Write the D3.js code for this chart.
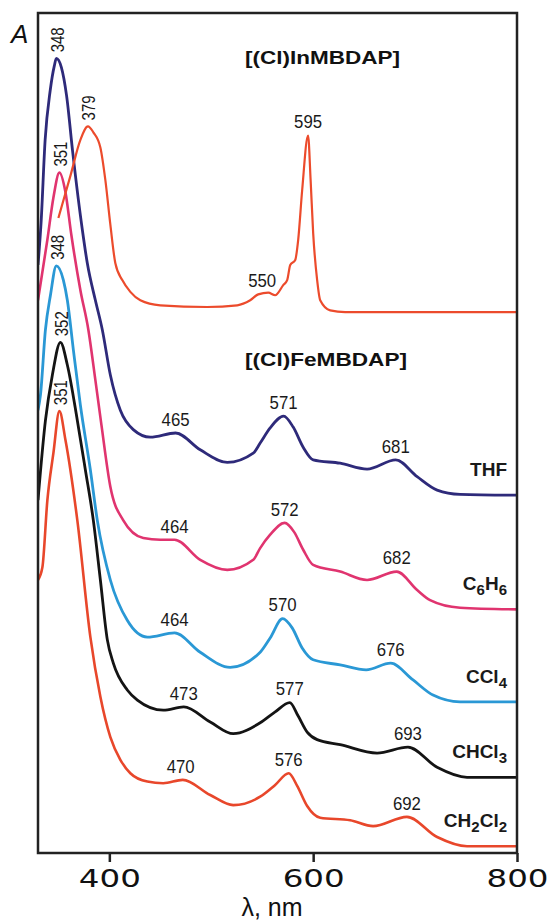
<!DOCTYPE html>
<html lang="en">
<head>
<meta charset="utf-8">
<meta name="viewport" content="width=device-width">
<title>Absorption spectra of (Cl)InMBDAP and (Cl)FeMBDAP</title>
<script src="https://cdn.jsdelivr.net/npm/d3@7"></script>
<style>
  html, body { margin: 0; padding: 0; background: #fff; }
  svg { display: block; }
  .peak { font-family: "Liberation Sans", Arial, sans-serif; font-size: 19px; fill: #1a1a1a; }
  .peak.rot { font-size: 18px; }
  .solvent { font-family: "Liberation Sans", Arial, sans-serif; font-size: 19px; font-weight: bold; fill: #1a1a1a; }
  .title { font-family: "Liberation Sans", Arial, sans-serif; font-size: 19px; font-weight: bold; fill: #111; }
  .axis text { font-family: "DejaVu Sans", sans-serif; font-size: 24px; fill: #111; }
  .axis line { stroke: #222; stroke-width: 2.5; }
</style>
</head>
<body>
<svg id="chart" width="551" height="923"></svg>
<script>
// spectra as [wavelength nm, absorbance (arb. units, offset stacked)]
const inMBDAP = [[350,7.56],[362,8.07],[371.6,8.49],[379,8.65],[384.3,8.58],[391.2,8.40],[396.1,8.01],
  [401,7.48],[405.9,7.02],[412.7,6.82],[420.6,6.68],[430.4,6.58],[450,6.52],[496,6.50],[525.5,6.52],
  [538.2,6.58],[546.1,6.65],[556,6.67],[562.7,6.64],[570.6,6.76],[574.5,6.82],[577.5,7.00],[582.4,7.06],
  [585.3,7.30],[589.2,7.89],[595,8.54],[597.5,8.01],[600,7.38],[603.9,6.82],[606.9,6.58],[616.7,6.46],
  [631.4,6.44],[800,6.44]];

const feTHF = [[330,7.00],[333,7.50],[337,8.49],[342,9.08],[346,9.37],[348,9.46],[353,9.35],[358,9.02],
  [364,8.35],[373.5,7.42],[378.4,7.02],[386.3,6.58],[393.1,6.23],[401,5.69],[410.8,5.27],[423.5,5.04],
  [440.2,4.95],[465,5.00],[489.2,4.80],[515.7,4.65],[541.2,4.76],[548,4.88],[557.8,5.06],[571,5.20],
  [580.4,5.07],[590.2,4.83],[600,4.68],[626.5,4.64],[652.9,4.57],[681,4.68],[702,4.48],[721.6,4.32],
  [744.1,4.27],[800,4.26]];

const feC6H6 = [[330,6.58],[339.2,7.30],[345.1,7.80],[351,8.10],[356.9,7.87],[362.7,7.36],[371.6,6.70],
  [379.4,6.23],[386.3,5.63],[392.2,5.10],[401,4.36],[413.7,3.96],[433.3,3.75],[450,3.73],[464,3.73],
  [489.2,3.49],[515.7,3.37],[541.2,3.49],[548,3.63],[557.8,3.79],[572,3.93],[581.4,3.82],[590.2,3.61],
  [600,3.43],[626.5,3.35],[652.9,3.25],[682,3.35],[702,3.13],[714.7,3.01],[744.1,2.92],[800,2.90]];

const feCCl4 = [[330,5.27],[332.4,5.45],[337.3,6.23],[342.2,6.64],[348,6.99],[354.9,6.82],[358.8,6.58],
  [364.7,5.99],[371.6,5.33],[381.4,4.56],[388.2,3.96],[401,3.25],[417.6,2.77],[437.3,2.57],[464,2.62],
  [489.2,2.39],[518.6,2.21],[548,2.39],[557.8,2.56],[570,2.79],[579.4,2.68],[589.2,2.44],[600,2.30],
  [626.5,2.24],[652,2.18],[676,2.26],[698,2.06],[717.6,1.88],[744.1,1.80],[800,1.80]];

const feCHCl3 = [[330,4.20],[337.3,5.15],[344.1,5.69],[352,6.08],[358.8,5.81],[368.6,5.15],[376.5,4.56],
  [384.3,3.96],[391.2,3.25],[398,2.54],[403.9,2.26],[417.6,1.94],[427.5,1.82],[452.9,1.70],[473,1.74],
  [499,1.56],[521.6,1.42],[548,1.55],[562.7,1.68],[577,1.79],[585.3,1.63],[594.1,1.44],[603.9,1.35],
  [626.5,1.29],[662.7,1.19],[693,1.26],[721.6,1.02],[751,0.90],[800,0.90]];

const feCH2Cl2 = [[330,3.25],[334.3,3.40],[339.2,4.20],[345.1,4.76],[351,5.26],[356.9,4.92],[368.6,3.96],
  [381.4,2.57],[391.2,1.86],[401,1.38],[410.8,1.11],[420.6,0.95],[437.3,0.85],[452.9,0.83],[472,0.87],
  [499,0.69],[521.6,0.57],[548,0.67],[562.7,0.81],[576,0.95],[584.3,0.80],[594.1,0.56],[606.9,0.42],
  [636.3,0.39],[658.8,0.32],[692,0.43],[721.6,0.19],[751,0.08],[800,0.08]];

// peak labels (first one of each list is written vertically)
const peaksIn = [379, 550, 595];
const peaksTHF = [348, 465, 571, 681];
const peaksC6H6 = [351, 464, 572, 682];
const peaksCCl4 = [348, 464, 570, 676];
const peaksCHCl3 = [352, 473, 577, 693];
const peaksCH2Cl2 = [351, 470, 576, 692];

const solvents = ["THF", "C6H6", "CCl4", "CHCl3", "CH2Cl2"];
const xTicks = [400, 600, 800];

const width = 551, height = 923;
const margin = { left: 38, right: 34, top: 13, bottom: 70 };

const svg = d3.select("#chart");

const x = d3.scaleLinear().domain([330, 800]).range([margin.left, width - margin.right]);
const y = d3.scaleLinear().domain([0, 10]).range([height - margin.bottom, margin.top]);

const series = [
  { name: "CH2Cl2", data: feCH2Cl2, peaks: peaksCH2Cl2, color: "#e8472b", width: 2.6 },
  { name: "CHCl3", data: feCHCl3, peaks: peaksCHCl3, color: "#141414", width: 2.8 },
  { name: "CCl4", data: feCCl4, peaks: peaksCCl4, color: "#2a98d5", width: 2.8 },
  { name: "C6H6", data: feC6H6, peaks: peaksC6H6, color: "#e0346f", width: 2.6 },
  { name: "THF", data: feTHF, peaks: peaksTHF, color: "#2e2a7a", width: 2.8 },
  { name: "In", data: inMBDAP, peaks: peaksIn, color: "#ec4b2c", width: 2.2 }
];

svg.append("clipPath").attr("id", "plot-clip")
  .append("rect")
  .attr("x", margin.left).attr("y", margin.top)
  .attr("width", width - margin.left - margin.right)
  .attr("height", height - margin.top - margin.bottom);

const line = d3.line()
  .x(d => x(d[0]))
  .y(d => y(d[1]))
  .curve(d3.curveMonotoneX);

svg.append("g").attr("clip-path", "url(#plot-clip)")
  .selectAll("path")
  .data(series)
  .join("path")
  .attr("d", d => line(d.data))
  .attr("fill", "none")
  .attr("stroke", d => d.color)
  .attr("stroke-width", d => d.width)
  .attr("stroke-linejoin", "round");

// linear lookup of a spectrum at a wavelength
function valueAt(data, lam) {
  for (let i = 0; i < data.length - 1; i++) {
    const a = data[i], b = data[i + 1];
    if (lam >= a[0] && lam <= b[0]) {
      return a[1] + (b[1] - a[1]) * (lam - a[0]) / (b[0] - a[0]);
    }
  }
  return data[data.length - 1][1];
}

// peak labels
series.forEach(s => {
  s.peaks.forEach((p, i) => {
    const px = x(p), py = y(valueAt(s.data, p));
    if (i === 0) {
      svg.append("text")
        .attr("class", "peak rot")
        .attr("transform", `translate(${px + 1},${py - 6}) rotate(-90)`)
        .attr("dy", "0.36em")
        .attr("textLength", 25)
        .attr("lengthAdjust", "spacingAndGlyphs")
        .text(p);
    } else {
      svg.append("text")
        .attr("class", "peak")
        .attr("x", px - 14)
        .attr("y", py - 14)
        .attr("dy", "0.36em")
        .attr("textLength", 28)
        .attr("lengthAdjust", "spacingAndGlyphs")
        .text(p);
    }
  });
});

// solvent names with subscript digits
solvents.forEach(name => {
  const s = series.find(d => d.name === name);
  const tail = s.data[s.data.length - 1][1];
  const t = svg.append("text")
    .attr("class", "solvent")
    .attr("x", x(800) - 10)
    .attr("y", y(tail) - 19)
    .attr("text-anchor", "end");
  const parts = name.match(/[A-Za-z]+|\d+/g);
  let sub = false;
  parts.forEach(part => {
    const isNum = /\d/.test(part);
    const ts = t.append("tspan").text(part);
    if (isNum && !sub) { ts.attr("dy", 5).attr("font-size", "15px"); sub = true; }
    else if (isNum) { ts.attr("font-size", "15px"); }
    else if (sub) { ts.attr("dy", -5); sub = false; }
  });
});

// titles
svg.append("text").attr("class", "title")
  .attr("x", 245).attr("y", 64)
  .attr("textLength", 155).attr("lengthAdjust", "spacingAndGlyphs")
  .text("[(Cl)InMBDAP]");
svg.append("text").attr("class", "title")
  .attr("x", 245).attr("y", 366)
  .attr("textLength", 162).attr("lengthAdjust", "spacingAndGlyphs")
  .text("[(Cl)FeMBDAP]");

// frame
svg.append("rect")
  .attr("x", margin.left).attr("y", margin.top)
  .attr("width", width - margin.left - margin.right)
  .attr("height", height - margin.top - margin.bottom)
  .attr("fill", "none")
  .attr("stroke", "#222")
  .attr("stroke-width", 2.5);

// x axis
const xAxis = svg.append("g")
  .attr("class", "axis")
  .attr("transform", `translate(0,${height - margin.bottom})`)
  .call(d3.axisBottom(x).tickValues(xTicks).tickSize(9).tickPadding(8).tickFormat(d3.format("d")));
xAxis.select(".domain").remove();
xAxis.selectAll("text")
  .attr("textLength", 62)
  .attr("lengthAdjust", "spacingAndGlyphs");

svg.append("text")
  .attr("x", 272).attr("y", 916)
  .attr("text-anchor", "middle")
  .style("font-family", "'Liberation Sans', Arial, sans-serif")
  .style("font-size", "25px")
  .style("fill", "#111")
  .text("λ, nm");

svg.append("text")
  .attr("x", 11).attr("y", 43)
  .style("font-family", "'Liberation Sans', Arial, sans-serif")
  .style("font-size", "26px")
  .style("font-style", "italic")
  .style("fill", "#111")
  .text("A");
</script>
</body>
</html>
